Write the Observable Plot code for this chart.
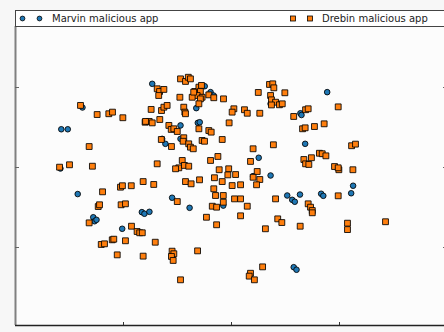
<!DOCTYPE html>
<html>
<head>
<meta charset="utf-8">
<script src="https://cdn.jsdelivr.net/npm/d3@7"></script>
<script src="https://cdn.jsdelivr.net/npm/@observablehq/plot@0.6"></script>
<style>
  html, body { margin: 0; padding: 0; background: #f7f7f7; overflow: hidden; }
  #wrap { position: relative; width: 444px; height: 332px; overflow: hidden; }
  #legend {
    position: absolute; left: 15px; top: 10px; width: 440px; height: 15px;
    border: 1px solid #444; background: #fff; box-sizing: content-box;
    font-family: "DejaVu Sans", sans-serif; font-size: 10px; color: #222;
  }
  #legend .item { position: absolute; top: 0; height: 15px; line-height: 15px; white-space: nowrap; }
  #legend svg { position: absolute; top: 0; }
</style>
</head>
<body>
<div id="wrap">
  <div id="chart"></div>
  <div id="legend"></div>
</div>
<script>
// Series names
const seriesNames = ["Marvin malicious app", "Drebin malicious app"];

// Marvin malicious app (circles)
const marvinX = [-69.0,-78.8,-75.8,-79.2,-71.2,-64.0,-63.4,-62.5,-41.5,-40.3,-38.0,-50.6,-36.7,-12.4,-9.7,-8.3,-16.3,-23.6,-15.6,-14.7,-32.1,-30.6,-23.6,12.6,10.0,18.1,-27.5,-19.4,-3.8,25.8,28.1,29.3,31.7,28.8,30.1,18.1,31.9,32.4,44.3,34.1,41.5,42.5,56.3,55.4];
const marvinY = [37.5,23.9,23.9,-0.6,-16.6,-31.1,-33.6,-32.7,-27.9,-28.9,-27.7,-38.3,52.3,50.8,47.1,45.0,37.1,26.3,27.9,28.3,17.9,14.8,17.9,6.1,-5.4,-5.0,-18.9,-25.2,-23.8,-17.5,-20.2,-21.4,-16.9,-62.3,-63.9,39.8,33.9,32.8,47.1,14.8,-16.4,-17.7,-11.4,-16.1];

// Drebin malicious app (squares)
const drebinX = [
  -69.9,-62.2,-56.8,-55.1,-50.3,-40.0,-38.1,-65.9,-79.6,-75.0,-64.4,-51.4,-50.5,-46.4,-40.9,-59.7,-61.7,-61.1,-51.1,-49.1,-65.9,-46.3,-43.7,-42.5,-41.3,-60.3,-58.8,-55.2,-54.5,-49.1,-52.9,-40.9,-36.0,-35.3,
  -34.4,-33.3,-33.7,-31.3,-23.6,-21.3,-20.0,-19.0,-23.9,-17.0,-15.1,-14.4,-15.9,-18.2,-17.5,-13.9,-13.6,-14.4,-15.1,-10.5,-8.2,-3.7,-22.1,-21.6,-21.3,-37.2,-32.4,-31.3,-29.8,1.1,0.3,6.0,7.3,13.1,12.4,
  17.6,19.1,19.6,24.7,18.1,18.5,20.4,22.2,23.5,18.5,28.8,34.3,35.5,49.4,32.9,34.1,38.4,42.9,55.6,57.4,33.5,34.3,35.8,37.0,40.7,42.0,43.7,47.7,49.7,49.4,56.2,49.4,35.5,36.6,37.4,37.4,31.8,53.7,53.7,71.3,
  -39.8,-36.7,-33.2,-29.0,-27.9,-26.7,-25.1,-15.1,-10.5,-9.4,-1.1,-32.5,-27.8,-22.1,-22.4,-19.8,-19.0,-17.7,-13.6,-12.5,-4.3,10.0,19.4,-34.4,-22.8,-24.4,-25.9,-21.8,-19.8,-9.7,-6.3,8.8,-5.7,-1.3,1.9,-1.7,-7.9,
  11.9,13.1,10.0,11.6,-14.8,-21.3,-18.7,-4.3,-8.2,0.3,4.2,-7.4,-3.8,-25.1,1.4,4.2,20.4,-3.8,-8.9,-6.9,7.3,-11.6,4.2,-6.9,21.4,23.3,15.7,-15.7,-27.5,-26.7,-27.8,-27.0,-23.6,14.4,8.8,8.2,10.6
];
const drebinY = [
  38.8,33.1,33.6,34.6,31.1,28.3,28.8,13.1,0.2,1.7,0.8,-12.3,-11.4,-11.4,-8.8,-15.2,-24.4,-23.3,-23.3,-22.7,-34.6,-36.7,-40.0,-40.8,-40.8,-48.1,-47.7,-45.2,-44.8,-45.8,-54.6,-55.4,-10.6,-46.7,
  49.2,47.5,45.0,48.8,55.4,53.8,56.4,55.4,43.9,47.5,50.2,47.5,45.0,43.9,47.1,51.3,43.9,42.9,39.8,45.4,43.6,42.9,37.7,34.6,33.6,36.3,35.6,37.7,38.8,36.7,34.6,36.1,33.9,33.9,46.9,
  51.9,52.3,49.8,46.7,45.0,42.3,40.8,39.2,39.8,39.1,31.9,36.1,36.7,37.9,24.2,24.8,25.6,27.3,13.6,14.6,5.0,2.3,1.9,6.1,8.9,8.6,7.3,0.6,-1.4,-0.2,-1.4,-17.7,-22.7,-24.8,-26.9,-28.3,-36.7,-34.8,-38.8,-33.9,
  28.8,27.9,30.0,26.3,23.8,24.2,22.5,24.2,23.1,22.1,27.9,17.5,13.1,18.6,16.4,14.8,12.7,11.7,16.9,16.4,17.5,11.7,14.2,2.3,4.4,-0.2,-0.8,1.3,0.8,4.4,6.9,3.8,-1.4,-0.8,-4.4,-4.6,-6.4,
  -2.5,-7.5,-6.1,-10.8,-7.7,-8.8,-10.2,-8.8,-13.3,-11.3,-10.8,-17.5,-17.5,-21.3,-19.6,-19.6,-19.6,-21.7,-24.2,-24.8,-24.2,-31.1,-30.2,-35.8,-32.1,-34.4,-38.3,-52.1,-52.3,-53.9,-55.6,-58.1,-70.2,-62.1,-66.1,-67.9,-70.2
];

// Tick positions (no labels shown)
const xTicks = [-50, 0, 50];
const yTicks = [-50, 0, 50];

const xDomain = [-100, 100];
const yDomain = [-98.75, 88.125];

const marvin = marvinX.map((x, i) => ({x, y: marvinY[i]}));
const drebin = drebinX.map((x, i) => ({x, y: drebinY[i]}));

const blue = "#1f77b4";
const orange = "#ff7f0e";

const chart = Plot.plot({
  width: 444,
  height: 332,
  marginLeft: 15,
  marginRight: -3,
  marginTop: 26,
  marginBottom: 7,
  x: {domain: xDomain, axis: null},
  y: {domain: yDomain, axis: null},
  style: {background: "transparent", overflow: "hidden"},
  marks: [
    Plot.frame({fill: "#fcfcfc", stroke: null}),
    Plot.ruleX([xDomain[0]], {stroke: "#808080", strokeWidth: 2}),
    Plot.ruleY([yDomain[0]], {stroke: "#222", strokeWidth: 1.5}),
    Plot.tickX(xTicks, {x: d => d, insetTop: 296, stroke: "#333"}),
    Plot.tickY(yTicks, {y: d => d, insetRight: 428, stroke: "#666"}),
    Plot.tickY(yTicks, {y: d => d, insetLeft: 428, stroke: "#666"}),
    Plot.dot(marvin, {x: "x", y: "y", r: 2.8, fill: blue, stroke: "#000", strokeWidth: 1, strokeOpacity: 0.85}),
    Plot.dot(drebin, {x: "x", y: "y", symbol: "square", r: 3.3, fill: orange, stroke: "#000", strokeWidth: 1, strokeOpacity: 0.85})
  ]
});
document.getElementById("chart").appendChild(chart);

// Legend (HTML, above the plot area)
const legend = document.getElementById("legend");
legend.innerHTML = `
  <svg width="40" height="15" style="left:0">
    <circle cx="6.5" cy="7.5" r="2.4" fill="${blue}" stroke="#000" stroke-width="0.8"/>
    <circle cx="23.5" cy="7.5" r="2.4" fill="${blue}" stroke="#000" stroke-width="0.8"/>
  </svg>
  <div class="item" style="left:36px">${seriesNames[0]}</div>
  <svg width="40" height="15" style="left:272px">
    <rect x="2.5" y="5" width="5" height="5" fill="${orange}" stroke="#000" stroke-width="0.8"/>
    <rect x="19.5" y="5" width="5" height="5" fill="${orange}" stroke="#000" stroke-width="0.8"/>
  </svg>
  <div class="item" style="left:306px">${seriesNames[1]}</div>
`;
</script>
</body>
</html>
